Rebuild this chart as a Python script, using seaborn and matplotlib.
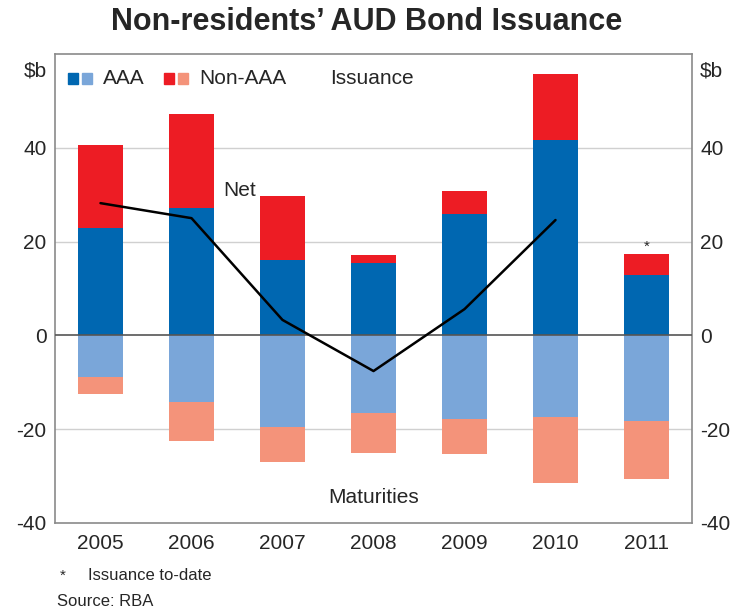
import matplotlib
matplotlib.use("Agg")
import matplotlib.pyplot as plt
import seaborn as sns
import numpy as np
import pandas as pd
from matplotlib.patches import Rectangle

years = ["2005", "2006", "2007", "2008", "2009", "2010", "2011"]
iss_aaa = [22.8, 27.2, 16.1, 15.4, 25.9, 41.6, 12.8]
iss_total = [40.6, 47.3, 29.7, 17.2, 30.8, 55.8, 17.3]
mat_aaa = [-8.9, -14.3, -19.5, -16.5, -17.9, -17.5, -18.2]
mat_total = [-12.6, -22.6, -27.0, -25.0, -25.2, -31.4, -30.6]
net_years = ["2005", "2006", "2007", "2008", "2009", "2010"]
net = [28.2, 25.0, 3.3, -7.6, 5.6, 24.6]
yticks = [-40, -20, 0, 20, 40]

C_AAA = "#0067b1"
C_AAA_M = "#7aa6d9"
C_NON = "#ed1c24"
C_NON_M = "#f4937a"

sns.set_style("white")
plt.rcParams["font.family"] = ["Liberation Sans", "DejaVu Sans"]

df = pd.DataFrame({"year": years, "iss_aaa": iss_aaa, "iss_total": iss_total,
                   "mat_aaa": mat_aaa, "mat_total": mat_total})

fig = plt.figure(figsize=(7.34, 6.13), dpi=100)
ax = fig.add_axes([55 / 734, 1 - 523 / 613, (692 - 55) / 734, (523 - 54) / 613])

for col, c in [("iss_total", C_NON), ("iss_aaa", C_AAA),
               ("mat_total", C_NON_M), ("mat_aaa", C_AAA_M)]:
    sns.barplot(data=df, x="year", y=col, order=years, color=c, width=0.5,
                saturation=1, ax=ax, linewidth=0, zorder=2)

xpos = [years.index(y) for y in net_years]
sns.lineplot(x=xpos, y=net, color="black", linewidth=1.8, ax=ax, zorder=4)

ax.set_xlim(-0.5, len(years) - 0.5)
ax.set_ylim(-40, 60)
ax.set_yticks(yticks)
ax.set_yticklabels([str(v) for v in yticks])
ax.set_xlabel("")
ax.set_ylabel("")
for v in [-20, 20, 40]:
    ax.axhline(v, color="#d0d0d0", linewidth=1, zorder=1)
ax.axhline(0, color="#555555", linewidth=1.2, zorder=3)

for s in ax.spines.values():
    s.set_color("#8a8a8a")
    s.set_linewidth(1.2)

ax.tick_params(axis="y", length=0, labelsize=15, pad=6, labelright=True, right=False)
ax.tick_params(axis="x", length=0, labelsize=15, pad=8)
ax.set_xticks(range(len(years)))
ax.set_xticklabels(years)
# category separators (inward ticks at the bottom)
ax.set_xticks(np.arange(0.5, len(years) - 0.5, 1), minor=True)
ax.tick_params(axis="x", which="minor", direction="in", length=7, color="#8a8a8a", width=1)

# $b labels
ax.text(-0.012, 0.985, "$b", transform=ax.transAxes, ha="right", va="top", fontsize=15)
ax.text(1.012, 0.985, "$b", transform=ax.transAxes, ha="left", va="top", fontsize=15)

# legend
def sq(x, color):
    ax.add_patch(Rectangle((x, 0.936), 0.016, 0.024, transform=ax.transAxes,
                           color=color, clip_on=False, zorder=5))
sq(0.020, C_AAA)
sq(0.042, C_AAA_M)
ax.text(0.075, 0.948, "AAA", transform=ax.transAxes, va="center", fontsize=15)
sq(0.171, C_NON)
sq(0.193, C_NON_M)
ax.text(0.226, 0.948, "Non-AAA", transform=ax.transAxes, va="center", fontsize=15)
ax.text(0.432, 0.948, "Issuance", transform=ax.transAxes, va="center", fontsize=15)

ax.text(1.53, 31.0, "Net", ha="center", va="center", fontsize=15, zorder=6)
ax.text(3.0, -34.5, "Maturities", ha="center", va="center", fontsize=15, zorder=6)
ax.text(6, 19.0, "*", ha="center", va="center", fontsize=11, zorder=6)

fig.text(0.5, 1 - 22 / 613, "Non-residents\u2019 AUD Bond Issuance", ha="center", va="center",
         fontsize=22, fontweight="bold")
fig.text(60 / 734, 1 - 576 / 613, "*", ha="left", va="center", fontsize=11)
fig.text(88 / 734, 1 - 576 / 613, "Issuance to-date", ha="left", va="center", fontsize=12)
fig.text(57 / 734, 1 - 601 / 613, "Source: RBA", ha="left", va="center", fontsize=12)

fig.savefig("out.png", dpi=100)
